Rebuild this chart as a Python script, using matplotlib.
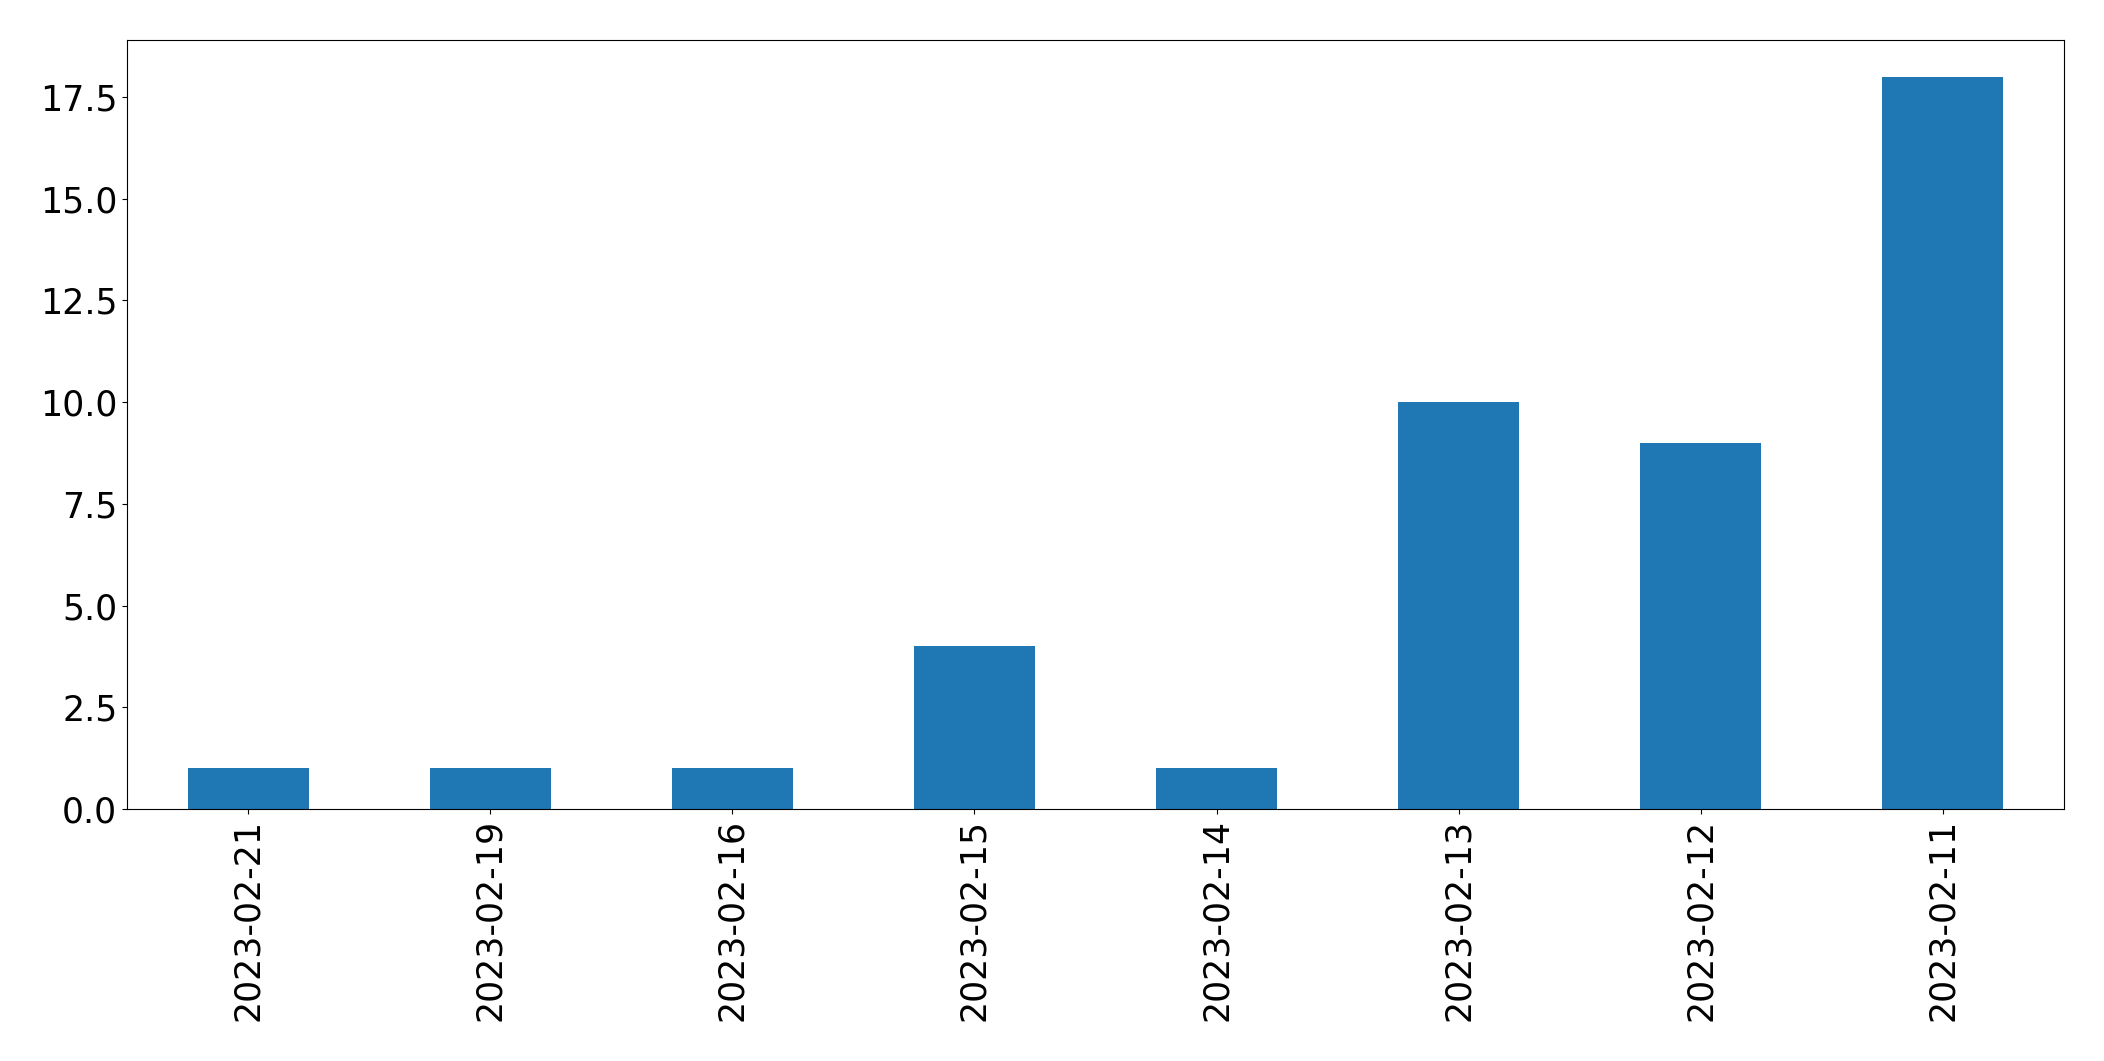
import matplotlib
matplotlib.use("Agg")
import matplotlib.pyplot as plt
import pandas as pd

# counts per day, as they appear left to right
dates = ["2023-02-21", "2023-02-19", "2023-02-16", "2023-02-15",
         "2023-02-14", "2023-02-13", "2023-02-12", "2023-02-11"]
counts = [1, 1, 1, 4, 1, 10, 9, 18]

s = pd.Series(counts, index=dates)

fig = plt.figure(figsize=(21.04, 10.61), dpi=100)
ax = fig.add_axes([127 / 2104, 1 - 809 / 1061, (2064 - 127) / 2104, (809 - 40) / 1061])
s.plot(kind="bar", ax=ax, color="#1f77b4")
ax.tick_params(axis="both", labelsize=25)

fig.savefig("out.png", dpi=100)
